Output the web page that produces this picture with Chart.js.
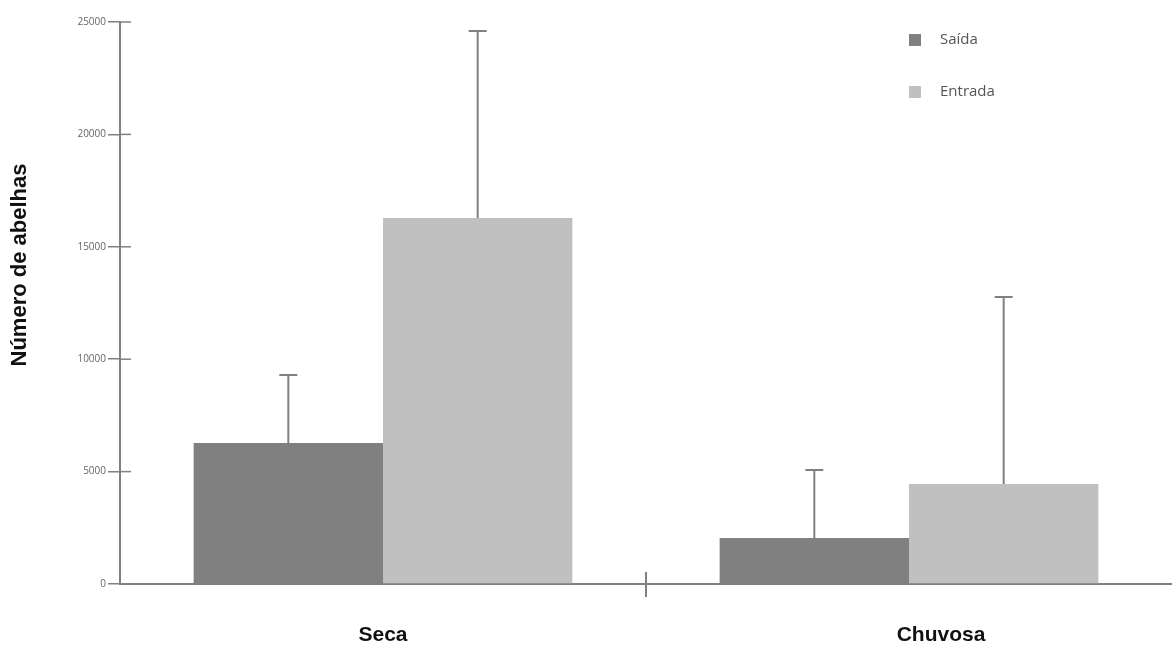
<!DOCTYPE html>
<html lang="pt">

<head>
  <title>Número de abelhas</title>
  <script src="https://cdn.jsdelivr.net/npm/chart.js"></script>
  <style>
    html, body { margin: 0; padding: 0; background: #fff; }
    #wrap { width: 1172px; height: 645px; }
  </style>
</head>

<body>
  <div id="wrap">
    <canvas id="myChart" width="1172" height="645"></canvas>
  </div>
  <script>
    // valores
    const categorias = ['Seca', 'Chuvosa'];
    const saida = [6270, 2050];
    const entrada = [16280, 4450];
    // desvio (só a barra de cima é desenhada)
    const saidaDP = [3030, 3020];
    const entradaDP = [8320, 8320];
    const yTicks = [0, 5000, 10000, 15000, 20000, 25000];

    const axisColor = '#808080';
    const labelShift = [0, 32];

    // barras de erro, legenda, rótulos e título
    const extras = {
      id: 'extras',
      afterDatasetsDraw(chart) {
        const ctx = chart.ctx;
        const y = chart.scales.y;
        const dpList = [saidaDP, entradaDP];
        ctx.save();
        ctx.strokeStyle = axisColor;
        ctx.lineWidth = 2;
        chart.data.datasets.forEach((ds, di) => {
          const meta = chart.getDatasetMeta(di);
          meta.data.forEach((bar, i) => {
            const top = y.getPixelForValue(ds.data[i] + dpList[di][i]);
            ctx.beginPath();
            ctx.moveTo(bar.x, bar.y);
            ctx.lineTo(bar.x, top);
            ctx.moveTo(bar.x - 9, top);
            ctx.lineTo(bar.x + 9, top);
            ctx.stroke();
          });
        });
        ctx.restore();
      },
      afterDraw(chart) {
        const ctx = chart.ctx;
        const x = chart.scales.x;
        const y = chart.scales.y;
        const area = chart.chartArea;
        ctx.save();

        // marcas internas dos eixos
        ctx.strokeStyle = axisColor;
        ctx.lineWidth = 1.5;
        yTicks.slice(1).forEach(v => {
          const py = y.getPixelForValue(v);
          ctx.beginPath();
          ctx.moveTo(area.left, py);
          ctx.lineTo(area.left + 11, py);
          ctx.stroke();
        });
        const mid = (x.getPixelForValue(0) + x.getPixelForValue(1)) / 2;
        ctx.lineWidth = 2;
        ctx.beginPath();
        ctx.moveTo(mid, area.bottom - 12);
        ctx.lineTo(mid, area.bottom + 13);
        ctx.stroke();

        // rótulos das categorias
        ctx.fillStyle = '#111';
        ctx.font = 'bold 21px "Liberation Sans", Arial, sans-serif';
        ctx.textAlign = 'center';
        ctx.textBaseline = 'middle';
        categorias.forEach((c, i) => {
          ctx.fillText(c, x.getPixelForValue(i) + labelShift[i], area.bottom + 51);
        });

        // título do eixo y
        ctx.save();
        ctx.translate(20, 265);
        ctx.rotate(-Math.PI / 2);
        ctx.font = 'bold 22px "Liberation Sans", Arial, sans-serif';
        ctx.fillText('Número de abelhas', 0, 0);
        ctx.restore();

        // legenda
        ctx.font = '15px "Open Sans", "Noto Sans", sans-serif';
        ctx.textAlign = 'left';
        chart.data.datasets.forEach((ds, i) => {
          const ly = 40 + i * 52;
          ctx.fillStyle = ds.backgroundColor;
          ctx.fillRect(909, ly - 6, 12, 12);
          ctx.fillStyle = '#555';
          ctx.fillText(ds.label, 940, ly);
        });
        ctx.restore();
      }
    };

    const ctx = document.getElementById('myChart');

    new Chart(ctx, {
      type: 'bar',
      data: {
        labels: categorias,
        datasets: [{
          label: 'Saída',
          data: saida,
          backgroundColor: '#808080',
          categoryPercentage: 0.72,
          barPercentage: 1.0
        }, {
          label: 'Entrada',
          data: entrada,
          backgroundColor: '#c0c0c0',
          categoryPercentage: 0.72,
          barPercentage: 1.0
        }]
      },
      options: {
        responsive: false,
        animation: false,
        layout: { padding: { top: 22, right: 0 } },
        plugins: {
          legend: { display: false },
          tooltip: { enabled: false }
        },
        scales: {
          x: {
            ticks: { display: false },
            grid: { display: false },
            border: { color: axisColor, width: 2 },
            afterFit(scale) { scale.height = 61; }
          },
          y: {
            min: 0,
            max: 25000,
            afterBuildTicks(scale) {
              scale.ticks = yTicks.map(v => ({ value: v }));
            },
            ticks: {
              color: '#666',
              font: { size: 10, family: '"Open Sans", sans-serif' },
              padding: 2,
              callback: v => String(v)
            },
            grid: {
              drawOnChartArea: false,
              color: axisColor,
              lineWidth: 1.5,
              tickLength: 12
            },
            border: { color: axisColor, width: 2 },
            afterFit(scale) { scale.width = 120; }
          }
        }
      },
      plugins: [extras]
    });
  </script>
</body>

</html>
